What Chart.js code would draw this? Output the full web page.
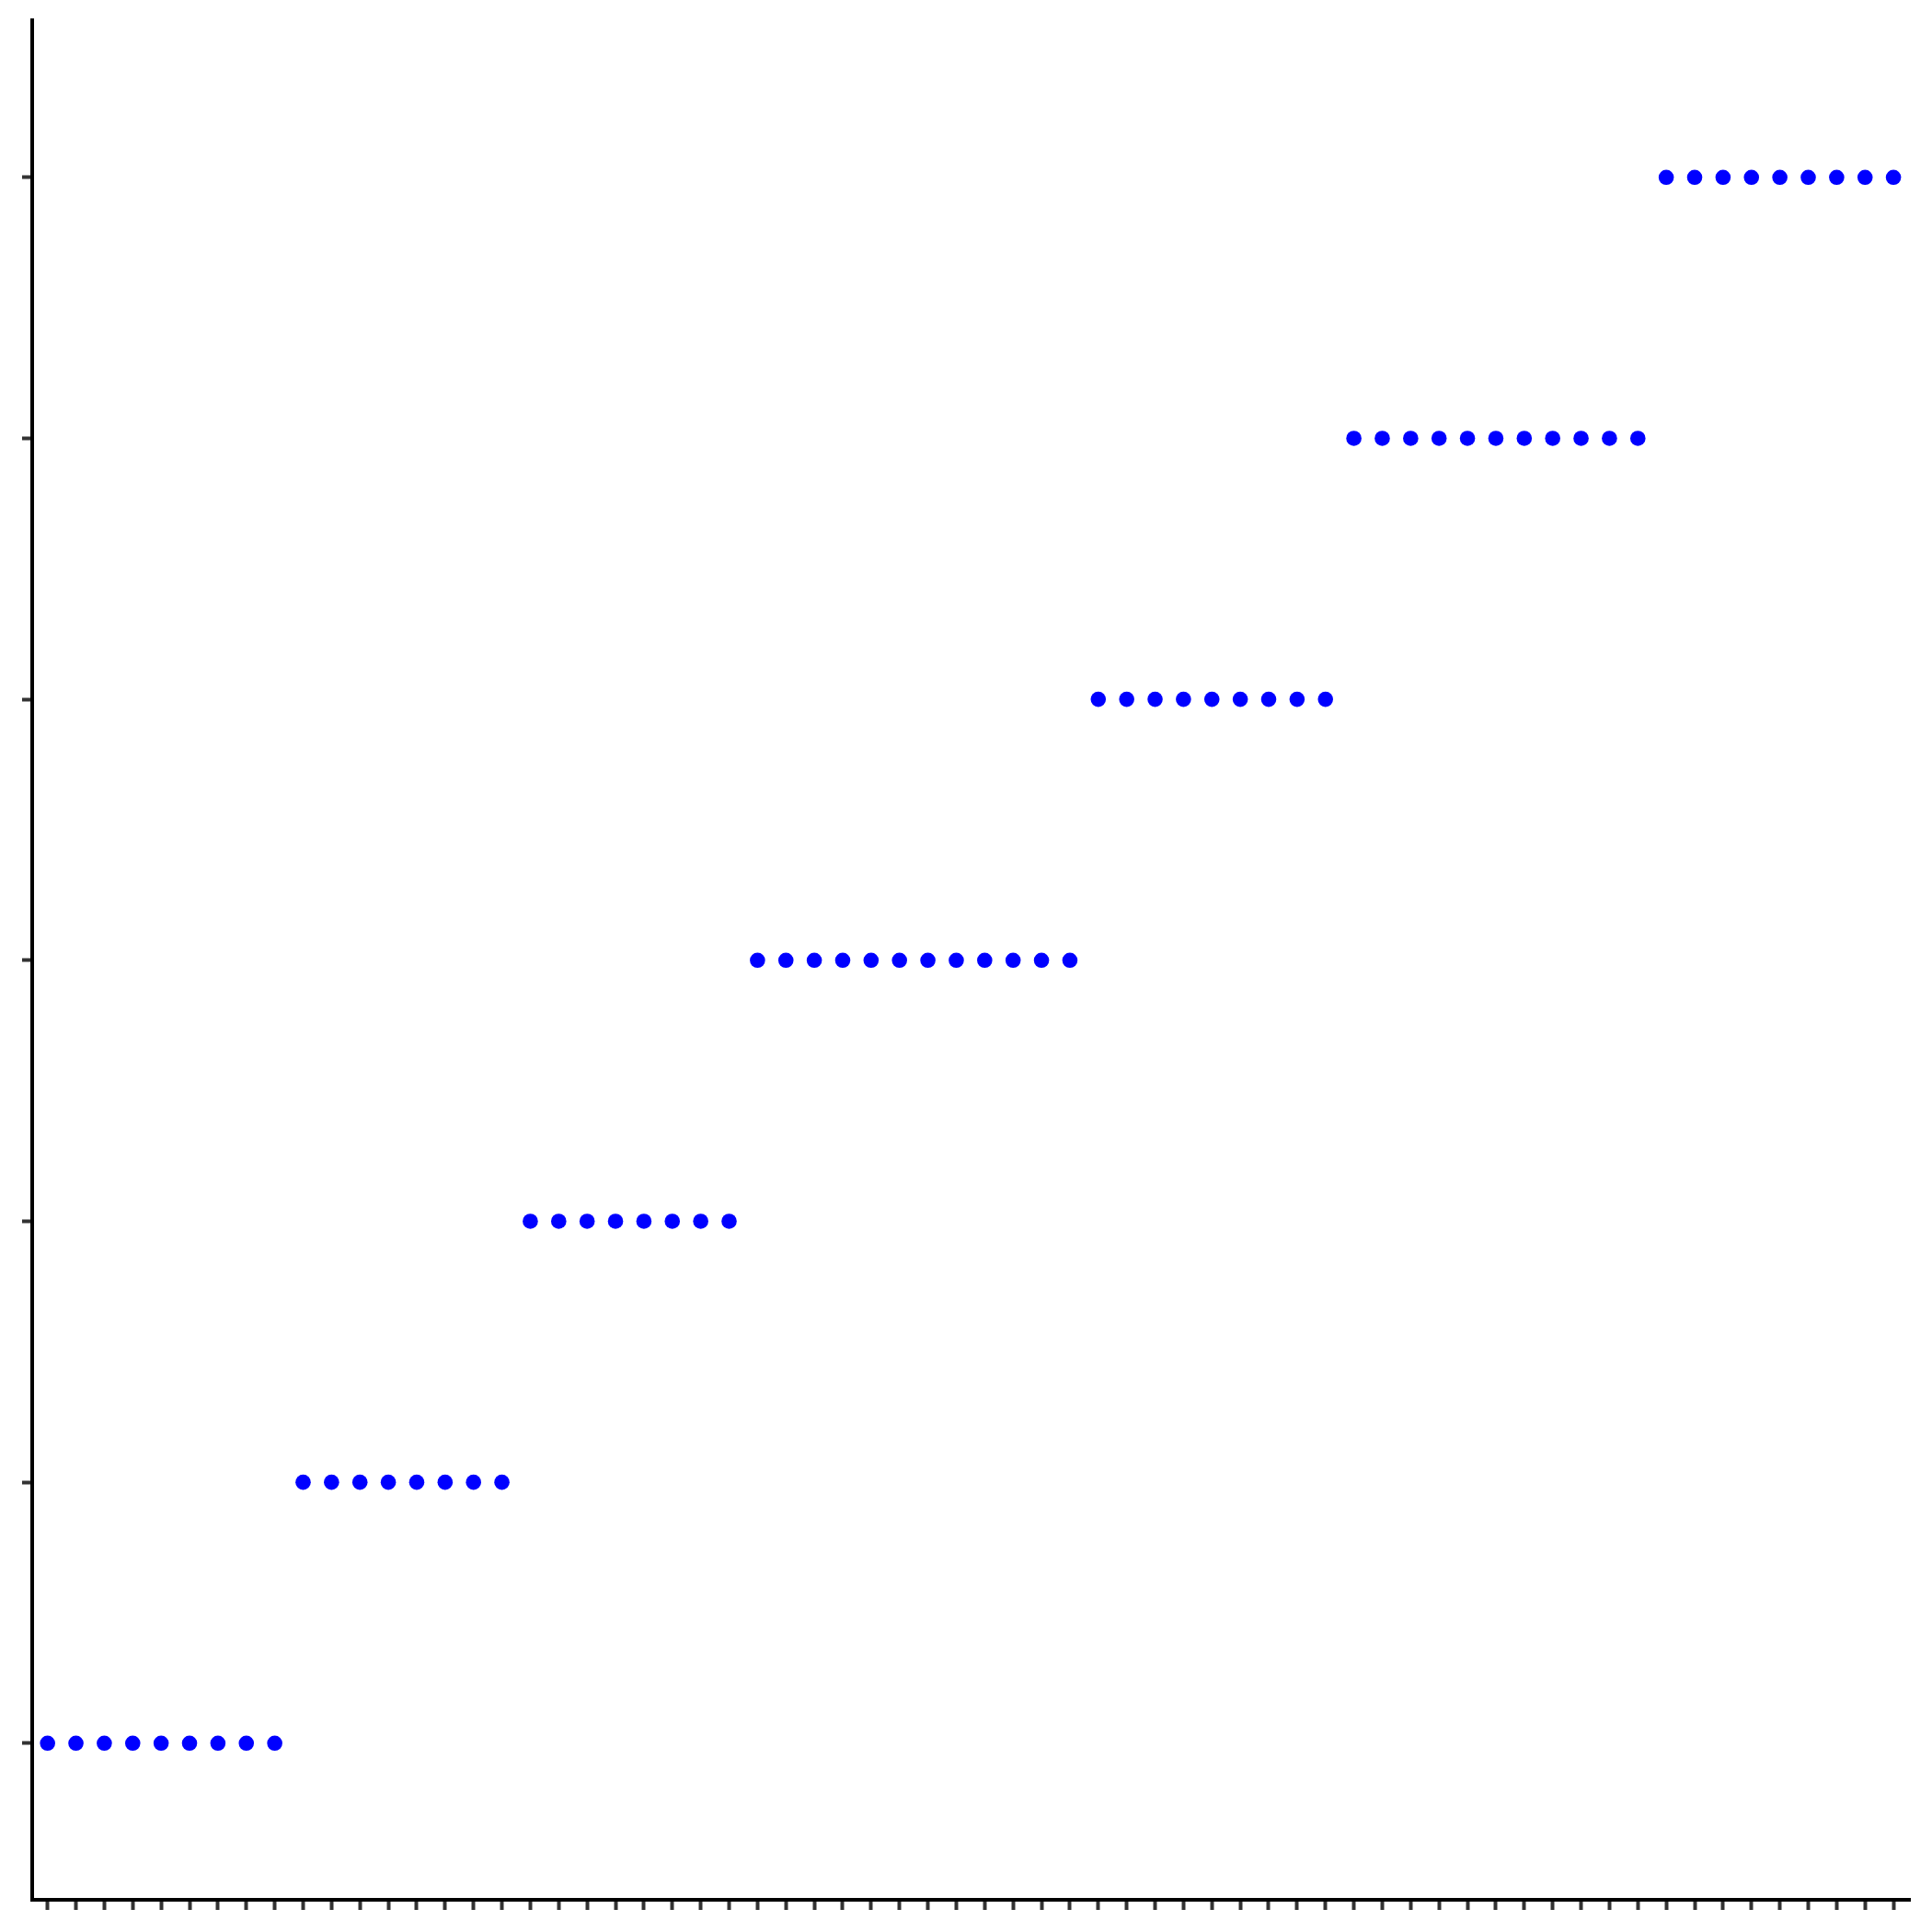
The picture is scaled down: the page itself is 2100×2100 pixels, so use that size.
<!DOCTYPE html>
<html>
<head>
<meta charset="utf-8">
<style>
  html, body { margin: 0; padding: 0; background: #ffffff; }
  canvas { display: block; }
</style>
<script src="https://cdn.jsdelivr.net/npm/chart.js@4/dist/chart.umd.min.js"></script>
</head>
<body>
<canvas id="c" width="2100" height="2100"></canvas>
<script>
// Level (y value) of each successive point
const yValues = [
  0, 0, 0, 0, 0, 0, 0, 0, 0,
  1, 1, 1, 1, 1, 1, 1, 1,
  2, 2, 2, 2, 2, 2, 2, 2,
  3, 3, 3, 3, 3, 3, 3, 3, 3, 3, 3, 3,
  4, 4, 4, 4, 4, 4, 4, 4, 4,
  5, 5, 5, 5, 5, 5, 5, 5, 5, 5, 5,
  6, 6, 6, 6, 6, 6, 6, 6, 6
];
// Tick positions
const yTickValues = [0, 1, 2, 3, 4, 5, 6];
const xTickValues = yValues.map((_, i) => i);

const points = yValues.map((y, i) => ({ x: i, y: y }));

new Chart(document.getElementById('c'), {
  type: 'scatter',
  data: {
    datasets: [{
      data: points,
      backgroundColor: '#0000ff',
      borderColor: '#0000ff',
      borderWidth: 0,
      pointRadius: 8.3,
      pointHoverRadius: 8.3
    }]
  },
  options: {
    responsive: false,
    animation: false,
    events: [],
    layout: { padding: { top: 22, right: 24, left: 0, bottom: 0 } },
    plugins: { legend: { display: false }, tooltip: { enabled: false } },
    scales: {
      x: {
        type: 'linear',
        min: -0.54,
        max: 65.58,
        afterBuildTicks: s => { s.ticks = xTickValues.map(v => ({ value: v })); },
        afterFit: s => { s.height = 35; },
        ticks: { display: false },
        grid: { display: true, drawOnChartArea: false, drawTicks: true, tickLength: 11, tickColor: '#333333', tickWidth: 4 },
        border: { display: true, color: '#000000', width: 4 }
      },
      y: {
        type: 'linear',
        min: -0.6,
        max: 6.602,
        afterBuildTicks: s => { s.ticks = yTickValues.map(v => ({ value: v })); },
        afterFit: s => { s.width = 35; },
        ticks: { display: false },
        grid: { display: true, drawOnChartArea: false, drawTicks: true, tickLength: 11, tickColor: '#333333', tickWidth: 4 },
        border: { display: true, color: '#000000', width: 4 }
      }
    }
  }
});
</script>
</body>
</html>
